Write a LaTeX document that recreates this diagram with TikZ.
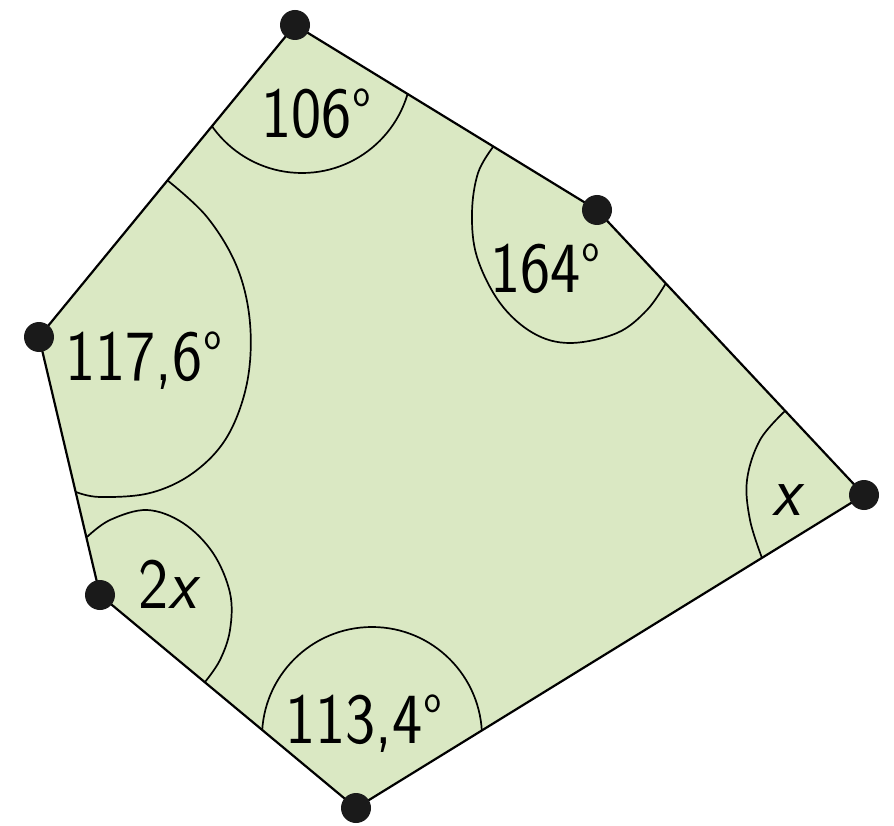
\documentclass[tikz,border=0pt]{standalone}
\usepackage{graphicx}
\definecolor{polyfill}{HTML}{DAE8C3}
\definecolor{dotcol}{HTML}{1A1A1A}
\newcommand\anglbl[1]{\scalebox{0.89}[1]{\fontsize{72}{80}\selectfont\sffamily #1}}
\newcommand\dg{\kern2pt\raisebox{31pt}{\fontsize{40}{40}\selectfont o}}
\tikzset{
  edge/.style={draw=black, line width=2.2pt, line join=round},
  anglearc/.style={draw=black, line width=1.7pt, smooth, tension=0.6},
  circarc/.style={draw=black, line width=1.7pt},
  vdot/.style={circle, fill=dotcol, inner sep=0pt, minimum size=30pt},
  lbl/.style={anchor=base west, inner sep=0pt, text=black}
}
\begin{document}
\begin{tikzpicture}[x=1pt, y=-1pt]
\useasboundingbox (0,0) rectangle (894,826);
\coordinate (A) at (295,25);
\coordinate (B) at (597,210);
\coordinate (C) at (864,495);
\coordinate (D) at (356,808);
\coordinate (E) at (100,595);
\coordinate (F) at (39,337);
\fill[polyfill] (A) -- (B) -- (C) -- (D) -- (E) -- (F) -- cycle;
% angle arcs
\begin{scope}
  \clip (A) -- (B) -- (C) -- (D) -- (E) -- (F) -- cycle;
  \draw[circarc] (302,63) circle[radius=110pt];
  \draw[circarc] (372,737) circle[radius=110pt];
\end{scope}
\draw[anglearc] plot coordinates {(493,147) (478,173) (472,213) (477,257) (500,303) (533,333) (570,343) (617,333) (647,310) (666,283)};
\draw[anglearc] plot coordinates {(167,180) (207,217) (237,267) (250,323) (247,383) (227,437) (193,473) (150,493) (100,497) (76,492)};
\draw[anglearc] plot coordinates {(87,537) (110,520) (147,510) (183,523) (213,553) (230,593) (230,630) (220,660) (205,682)};
\draw[anglearc] plot coordinates {(785,411) (760,440) (747,480) (750,520) (762,558)};
\draw[edge] (A) -- (B) -- (C) -- (D) -- (E) -- (F) -- cycle;
% vertex dots
\node[vdot] (dA) at (A) {};
\node[vdot] (dB) at (B) {};
\node[vdot] (dC) at (C) {};
\node[vdot] (dD) at (D) {};
\node[vdot] (dE) at (E) {};
\node[vdot] (dF) at (F) {};
% labels
\node[lbl] (lA) at (261,138) {\anglbl{106\dg}};
\node[lbl] (lB) at (490,293) {\anglbl{164\dg}};
\node[lbl] (lF) at (65,380) {\anglbl{117,6\dg}};
\node[lbl] (lE) at (138,608) {\anglbl{2\textit{x}}};
\node[lbl] (lD) at (285,743) {\anglbl{113,4\dg}};
\node[lbl] (lC) at (772,515) {\anglbl{\textit{x}}};
\end{tikzpicture}
\end{document}
